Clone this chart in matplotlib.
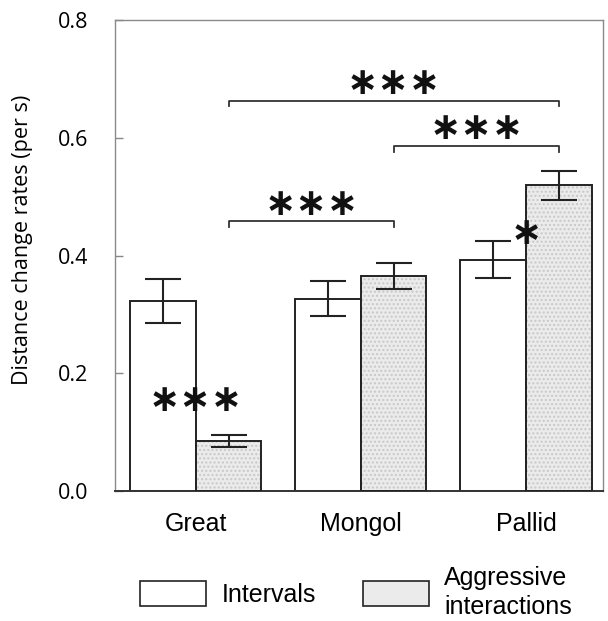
import matplotlib
matplotlib.use("Agg")
import matplotlib.pyplot as plt
from matplotlib.patches import Patch
import numpy as np

species = ["Great", "Mongol", "Pallid"]
intervals = [0.323, 0.327, 0.393]
intervals_err = [0.038, 0.029, 0.031]
aggressive = [0.085, 0.365, 0.519]
aggressive_err = [0.010, 0.022, 0.025]

# significance brackets: (from group, to group, height, label)
brackets = [(0, 1, 0.458, "***"), (1, 2, 0.586, "***"), (0, 2, 0.663, "***")]
# within-species stars: (group, height, label)
pair_stars = [(0, 0.153, "***"), (2, 0.437, "*")]

fig = plt.figure(figsize=(6.08, 6.21), dpi=100)
ax = fig.add_axes([0.189, 0.209, 0.803, 0.759])

x = np.arange(len(species))
w = 0.397
dark = "#222222"

ax.bar(x - w / 2, intervals, w, color="white", edgecolor=dark, linewidth=1.4, zorder=2)
ax.bar(x + w / 2, aggressive, w, color="#ebebeb", edgecolor="#c8c8c8", hatch="....",
       linewidth=0, zorder=2)
ax.bar(x + w / 2, aggressive, w, fill=False, edgecolor=dark, linewidth=1.4, zorder=3)

ax.errorbar(x - w / 2, intervals, yerr=intervals_err, fmt="none", ecolor=dark,
            elinewidth=1.5, capsize=13, capthick=1.5, zorder=4)
ax.errorbar(x + w / 2, aggressive, yerr=aggressive_err, fmt="none", ecolor=dark,
            elinewidth=1.5, capsize=13, capthick=1.5, zorder=4)

star_font = dict(family="DejaVu Sans", fontsize=27, fontweight="bold",
                 ha="center", va="center", color="#111111")

for a, b, h, lab in brackets:
    x0, x1 = a + w / 2, b + w / 2
    ax.plot([x0, x0, x1, x1], [h - 0.01, h, h, h - 0.01], color="#333333", lw=1.3, zorder=4)
    ax.text((x0 + x1) / 2, h + 0.028, lab.replace("*", "\u2217"), **star_font)

for g, h, lab in pair_stars:
    ax.text(x[g], h, lab.replace("*", "\u2217"), **star_font)

ax.set_xlim(-0.49, 2.467)
ax.set_ylim(0, 0.8)
ax.set_yticks([0.0, 0.2, 0.4, 0.6, 0.8])
ax.set_yticklabels(["0.0", "0.2", "0.4", "0.6", "0.8"], family="Open Sans", fontsize=15.5)
ax.tick_params(axis="y", direction="in", length=6, width=1, color="#888888", pad=19)
ax.set_xticks(x)
ax.set_xticklabels(species, family="Liberation Sans", fontsize=18)
ax.tick_params(axis="x", length=0, pad=15)
ax.set_ylabel("Distance change rates (per s)", family="Open Sans", fontsize=15.5)
ax.yaxis.set_label_coords(-0.168, 0.533)

for side in ["left", "top", "right"]:
    ax.spines[side].set_color("#8a8a8a")
    ax.spines[side].set_linewidth(1)
ax.spines["bottom"].set_color("#333333")
ax.spines["bottom"].set_linewidth(1.4)

handles = [
    Patch(facecolor="white", edgecolor=dark, linewidth=1.2),
    Patch(facecolor="#ebebeb", edgecolor=dark, linewidth=1.2),
]
leg = fig.legend(handles, ["Intervals", "Aggressive\ninteractions"], loc="center left",
                 bbox_to_anchor=(0.231, 0.046), ncol=2, frameon=False,
                 prop={"family": "Liberation Sans", "size": 18},
                 handlelength=2.64, handleheight=1.16, handletextpad=0.6,
                 columnspacing=1.9, borderpad=0, borderaxespad=0)
for t in leg.get_texts():
    t.set_linespacing(1.3)

fig.savefig("out.png", dpi=100)
